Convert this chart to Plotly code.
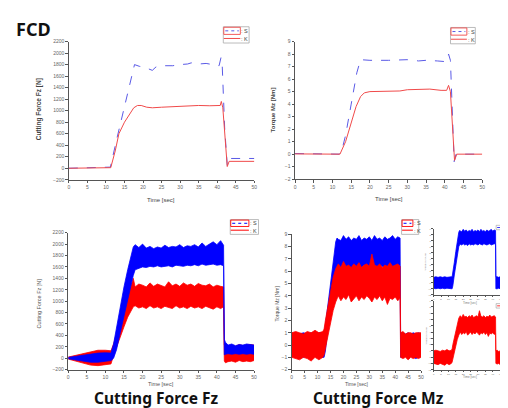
import plotly.graph_objects as go

W, H = 508, 408

# ---------------- data ----------------
# Top-left: smoothed cutting force Fz [N]
fz_s_t = [0, 5, 10, 11.2, 13, 15, 17.2, 17.7, 19, 20.5, 22.5, 23.5, 25, 28, 30, 32, 33, 35, 37, 38, 40, 40.5, 41, 41.3, 42, 42.7, 43.2, 50]
fz_s = [0, 10, 20, 20, 530, 1090, 1700, 1800, 1770, 1750, 1700, 1760, 1780, 1780, 1800, 1810, 1830, 1810, 1820, 1810, 1790, 1780, 1920, 1850, 700, 50, 170, 170]
fz_k_t = [0, 5, 10, 11.3, 12.5, 13.5, 15, 16.5, 17.5, 18.5, 19.5, 21, 22.5, 25, 28, 30, 33, 35, 38, 40, 40.8, 41.1, 41.5, 42.7, 43.2, 50]
fz_k = [0, 10, 20, 10, 300, 600, 800, 950, 1050, 1090, 1090, 1060, 1050, 1060, 1070, 1080, 1085, 1090, 1085, 1080, 1090, 1160, 1050, 30, 120, 120]

# Top-right: smoothed torque Mz [Nm]
mz_s_t = [0, 5, 10, 11.8, 12.5, 13.5, 15, 16.5, 17.5, 20, 25, 30, 33, 35, 38, 40, 40.7, 41, 41.5, 42.5, 43, 50]
mz_s = [0.05, 0.02, 0.02, 0, 0.3, 1.5, 4.0, 6.5, 7.55, 7.5, 7.5, 7.55, 7.45, 7.5, 7.45, 7.4, 7.5, 8.0, 7.5, -0.6, 0.0, 0]
mz_k_t = [0, 5, 10, 12, 13.5, 15, 16.3, 17.5, 18.5, 20, 25, 28, 30, 33, 36, 39, 40.5, 41, 41.5, 42.6, 43.2, 50]
mz_k = [0.02, 0.0, 0.02, 0, 1.0, 2.5, 3.8, 4.6, 4.9, 5.0, 5.05, 5.05, 5.15, 5.2, 5.2, 5.1, 5.1, 5.5, 5.0, -0.5, 0, 0]

# Bottom-left: raw Fz, drawn as the envelope (upper / lower edge) of the noisy signal
fzr_t = [0, 2, 4, 6, 8, 10, 11.5, 12.2, 13, 14, 15, 16, 17, 17.5, 18, 19, 20, 21, 22, 23, 24, 25, 26, 27, 28, 29, 30, 31, 32, 33, 34, 35, 36, 37, 38, 39, 40, 41, 41.8, 42.0, 42.3, 43, 44, 45, 46, 47, 48, 49, 50]
fzr_s_hi = [15, 35, 60, 80, 90, 95, 90, 250, 550, 900, 1250, 1550, 1850, 1950, 1990, 1940, 2000, 1930, 1960, 1920, 1950, 1930, 1980, 1940, 1960, 1950, 1990, 1940, 1970, 1960, 1990, 1950, 2020, 1960, 2000, 2040, 1990, 2060, 1980, 330, 280, 230, 250, 220, 240, 230, 250, 240, 230]
fzr_s_lo = [-10, -30, -50, -70, -70, -60, -40, 0, 150, 450, 750, 1050, 1350, 1450, 1550, 1580, 1600, 1590, 1610, 1600, 1620, 1600, 1610, 1620, 1600, 1630, 1620, 1610, 1630, 1620, 1640, 1620, 1650, 1630, 1640, 1650, 1630, 1640, 1620, 60, 70, 80, 70, 80, 70, 80, 70, 80, 70]
fzr_k_hi = [20, 50, 90, 120, 140, 140, 130, 250, 450, 700, 900, 1100, 1300, 1400, 1250, 1300, 1280, 1250, 1320, 1260, 1300, 1280, 1250, 1340, 1270, 1300, 1260, 1320, 1280, 1300, 1260, 1310, 1280, 1270, 1300, 1250, 1280, 1260, 1250, 230, 240, 220, 230, 210, 240, 220, 230, 240, 230]
fzr_k_lo = [-15, -50, -90, -120, -130, -120, -100, 50, 200, 380, 550, 720, 850, 900, 920, 880, 900, 870, 920, 880, 900, 870, 910, 890, 870, 920, 880, 900, 870, 910, 880, 900, 870, 910, 880, 860, 900, 870, 900, -50, -80, -60, -50, -70, -40, -60, -50, -60, -40]

# Bottom-right: raw Mz envelopes
mzr_t = [0, 1.5, 3, 4.5, 6, 7.5, 9, 10.5, 12, 12.5, 13, 14, 15, 16, 17, 17.5, 18, 19, 20, 21, 22, 23, 24, 25, 26, 27, 28, 29, 30, 31, 32, 33, 34, 35, 36, 37, 38, 39, 40, 41, 41.9, 42.1, 43, 44, 45, 46, 47, 48, 49, 50]
mzr_s_hi = [0.9, 1.0, 0.9, 1.0, 0.9, 1.0, 0.9, 1.0, 1.0, 1.0, 1.6, 3.4, 5.2, 7.0, 8.4, 8.7, 8.6, 8.5, 8.9, 8.6, 8.8, 8.5, 8.7, 8.6, 8.9, 8.5, 8.7, 8.6, 8.8, 8.5, 8.9, 8.6, 8.7, 8.5, 8.8, 8.6, 8.7, 8.9, 8.6, 8.8, 8.7, 1.0, 1.0, 0.9, 1.0, 0.9, 1.0, 0.9, 1.0, 0.9]
mzr_s_lo = [-0.9, -1.0, -0.9, -1.0, -0.9, -1.0, -0.9, -1.0, -1.0, -1.0, -0.5, 1.3, 3.1, 4.9, 6.0, 6.3, 6.4, 6.3, 6.5, 6.3, 6.4, 6.2, 6.5, 6.3, 6.4, 6.3, 6.5, 6.4, 6.3, 6.5, 6.4, 6.3, 6.5, 6.4, 6.3, 6.4, 6.5, 6.3, 6.4, 6.5, 6.4, -1.0, -1.0, -0.9, -1.0, -0.9, -1.0, -1.1, -1.0, -0.9]
mzr_k_hi = [1.0, 1.1, 1.0, 0.9, 1.1, 1.0, 1.2, 1.0, 1.1, 1.3, 2.0, 3.2, 4.4, 5.5, 6.2, 6.4, 6.6, 6.3, 6.8, 6.4, 6.5, 6.3, 6.6, 6.4, 6.7, 6.3, 6.5, 6.6, 6.4, 7.4, 6.5, 6.4, 6.6, 6.3, 6.5, 6.4, 6.7, 6.4, 6.5, 6.6, 6.4, 1.0, 1.1, 0.9, 1.0, 1.0, 0.9, 1.0, 1.0, 1.0]
mzr_k_lo = [-1.0, -1.1, -1.2, -1.0, -1.1, -1.3, -1.0, -1.2, -1.0, -0.8, -0.3, 0.8, 1.8, 2.8, 3.5, 3.8, 4.0, 3.6, 3.9, 3.7, 4.1, 3.5, 3.8, 4.0, 3.6, 3.9, 3.7, 4.0, 3.8, 3.5, 3.9, 3.7, 4.0, 3.6, 3.9, 3.3, 3.8, 3.7, 3.9, 3.6, 3.8, -1.0, -1.1, -1.0, -1.2, -1.0, -1.1, -1.0, -1.1, -1.0]

x_ticks = list(range(0, 51, 5))
fz_ticks = list(range(-200, 2201, 200))
mz_ticks = list(range(-2, 10, 1))

# ---------------- helpers ----------------
def px(x):
    return x / W

def py(y):
    return 1 - y / H

fig = go.Figure()

BLUE_S = "#5a5ae6"
RED_S = "#f04a4a"
BLUE_R = "#0000ff"
RED_R = "#ff0000"


def add_line(t, v, ax, color, dash):
    fig.add_trace(go.Scatter(x=t, y=v, mode="lines", xaxis="x" + ax, yaxis="y" + ax,
                             line=dict(color=color, width=1, dash=dash), showlegend=False,
                             hoverinfo="skip"))


def add_band(t, lo, hi, ax, color):
    fig.add_trace(go.Scatter(x=t, y=lo, mode="lines", xaxis="x" + ax, yaxis="y" + ax,
                             line=dict(color=color, width=0.8), showlegend=False, hoverinfo="skip"))
    fig.add_trace(go.Scatter(x=t, y=hi, mode="lines", xaxis="x" + ax, yaxis="y" + ax,
                             line=dict(color=color, width=0.8), fill="tonexty", fillcolor=color,
                             showlegend=False, hoverinfo="skip"))


# top
add_line(fz_s_t, fz_s, "", BLUE_S, "dash")
add_line(fz_k_t, fz_k, "", RED_S, "solid")
add_line(mz_s_t, mz_s, "2", BLUE_S, "dash")
add_line(mz_k_t, mz_k, "2", RED_S, "solid")
# bottom-left: red first then blue on top
add_band(fzr_t, fzr_k_lo, fzr_k_hi, "3", RED_R)
add_band(fzr_t, fzr_s_lo, fzr_s_hi, "3", BLUE_R)
# bottom-right: blue first then red on top
add_band(mzr_t, mzr_s_lo, mzr_s_hi, "4", BLUE_R)
add_band(mzr_t, mzr_k_lo, mzr_k_hi, "4", RED_R)
# insets
add_band(mzr_t, mzr_s_lo, mzr_s_hi, "5", BLUE_R)
add_band(mzr_t, mzr_k_lo, mzr_k_hi, "6", RED_R)

AX = "#555555"


def axis(x0, x1, y0, y1, xr, yr, xt, yt, fs, tl, anchor_x, anchor_y):
    xa = dict(domain=[px(x0), px(x1)], range=xr, tickvals=xt, ticks="outside", ticklen=tl,
              tickcolor=AX, showline=True, linecolor=AX, linewidth=1, showgrid=False,
              zeroline=False, tickfont=dict(size=fs, color="#666", family="Liberation Sans"),
              anchor=anchor_y, fixedrange=True)
    ya = dict(domain=[py(y1), py(y0)], range=yr, tickvals=yt, ticks="outside", ticklen=tl,
              tickcolor=AX, showline=True, linecolor=AX, linewidth=1, showgrid=False,
              zeroline=False, tickfont=dict(size=fs, color="#666", family="Liberation Sans"),
              anchor=anchor_x, fixedrange=True)
    return xa, ya


specs = {
    "": (60.3, 247.3, 31, 171.3, [0, 50], [-200, 2200], fz_ticks, 5, 2.5),
    "2": (288.3, 477, 31, 170.7, [0, 50], [-2, 9], mz_ticks, 5, 2.5),
    "3": (59.7, 247, 225, 364, [0, 50], [-200, 2200], fz_ticks, 5, 2.5),
    "4": (285, 415.3, 226.7, 364, [0, 50], [-2, 9], mz_ticks, 5, 2.5),
    "5": (428, 502.5, 221, 288, [0, 50], [-2, 9], mz_ticks, 2.5, 1.2),
    "6": (428, 502.5, 294, 364, [0, 50], [-2, 9], mz_ticks, 2.5, 1.2),
}
layout = {}
for k, (x0, x1, y0, y1, xr, yr, yt, fs, tl) in specs.items():
    xa, ya = axis(x0, x1, y0, y1, xr, yr, x_ticks, yt, fs, tl, "x" + k, "y" + k)
    layout["xaxis" + k] = xa
    layout["yaxis" + k] = ya

annotations = []
shapes = []


def text(x, y, s, size, color="#333", bold=False, family="Liberation Sans", angle=0,
         xanchor="center"):
    annotations.append(dict(x=px(x), y=py(y), xref="paper", yref="paper", text=("<b>%s</b>" % s) if bold else s,
                            showarrow=False, font=dict(size=size, color=color, family=family),
                            textangle=angle, xanchor=xanchor, yanchor="middle", borderpad=0,
                            borderwidth=0))


# axis titles
text(30, 100, "Cutting Force Fz [N]", 6.5, "#444", True, angle=-90)
text(153, 192, "Time [sec]", 6, "#444")
text(266, 100, "Torque Mz [Nm]", 6, "#444", True, angle=-90)
text(383, 191, "Time [sec]", 6, "#444")
text(30, 297, "Cutting Force Fz [N]", 5.5, "#555", angle=-90)
text(153, 379, "Time [sec]", 5.5, "#555")
text(270, 297, "Torque Mz [Nm]", 5, "#555", angle=-90)
text(350, 379, "Time [sec]", 5, "#555")
text(420, 255, "Torque Mz [Nm]", 2.5, "#777", angle=-90)
text(420, 330, "Torque Mz [Nm]", 2.5, "#777", angle=-90)
text(465, 296, "Time [sec]", 3, "#777")
text(465, 371.5, "Time [sec]", 3, "#777")

# big titles
text(7, 18, "FCD", 18, "#111", True, "Noto Sans", xanchor="left")
text(149, 393, "Cutting Force Fz", 15.5, "#111", True, "Noto Sans")
text(372, 393, "Cutting Force Mz", 15.5, "#111", True, "Noto Sans")


def legend(x0, y0, x1, y1, blue, red, fs):
    # outer box
    shapes.append(dict(type="rect", xref="paper", yref="paper", x0=px(x0), x1=px(x1), y0=py(y1), y1=py(y0),
                       line=dict(color="#aaaaaa", width=0.8)))
    ym = (y0 + y1) / 2
    sx1 = x0 + (x1 - x0) * 0.66
    # S row: red frame with blue dotted line
    shapes.append(dict(type="rect", xref="paper", yref="paper", x0=px(x0 + 0.5), x1=px(sx1), y0=py(ym - 0.5),
                       y1=py(y0 + 0.5), line=dict(color=red, width=0.9)))
    shapes.append(dict(type="line", xref="paper", yref="paper", x0=px(x0 + 2), x1=px(sx1 - 1.5),
                       y0=py((y0 + ym) / 2), y1=py((y0 + ym) / 2), line=dict(color=blue, width=1, dash="dot")))
    # K row: red line
    shapes.append(dict(type="line", xref="paper", yref="paper", x0=px(x0 + 0.5), x1=px(sx1),
                       y0=py((ym + y1) / 2 - 0.5), y1=py((ym + y1) / 2 - 0.5), line=dict(color=red, width=1)))
    text(sx1 + 1, (y0 + ym) / 2, ": S", fs, "#444", xanchor="left")
    text(sx1 + 1, (ym + y1) / 2, ": K", fs, "#444", xanchor="left")


legend(216, 16, 242, 32.5, BLUE_S, RED_S, 5.5)
legend(445, 16.7, 470, 33.3, BLUE_S, RED_S, 5.5)
legend(223, 211.7, 251.5, 226.7, BLUE_R, RED_R, 5.5)
legend(395.7, 211.7, 413, 226.7, BLUE_R, RED_R, 5.5)


def mini_legend(x0, y0, x1, y1, color, label):
    shapes.append(dict(type="rect", xref="paper", yref="paper", x0=px(x0), x1=px(x1), y0=py(y1), y1=py(y0),
                       line=dict(color="#999", width=0.6)))
    shapes.append(dict(type="line", xref="paper", yref="paper", x0=px(x0 + 1), x1=px(x0 + 5.5),
                       y0=py((y0 + y1) / 2), y1=py((y0 + y1) / 2), line=dict(color=color, width=0.8)))
    text(x0 + 7, (y0 + y1) / 2, label, 2.5, "#666", xanchor="left")


mini_legend(491, 217.5, 502, 222, BLUE_R, "S")
mini_legend(491, 297, 502, 301.5, RED_R, "K")

fig.update_layout(width=W, height=H, margin=dict(l=0, r=0, t=0, b=0), paper_bgcolor="white",
                  plot_bgcolor="white", showlegend=False, annotations=annotations, shapes=shapes,
                  **layout)
fig.write_html("out.html")
